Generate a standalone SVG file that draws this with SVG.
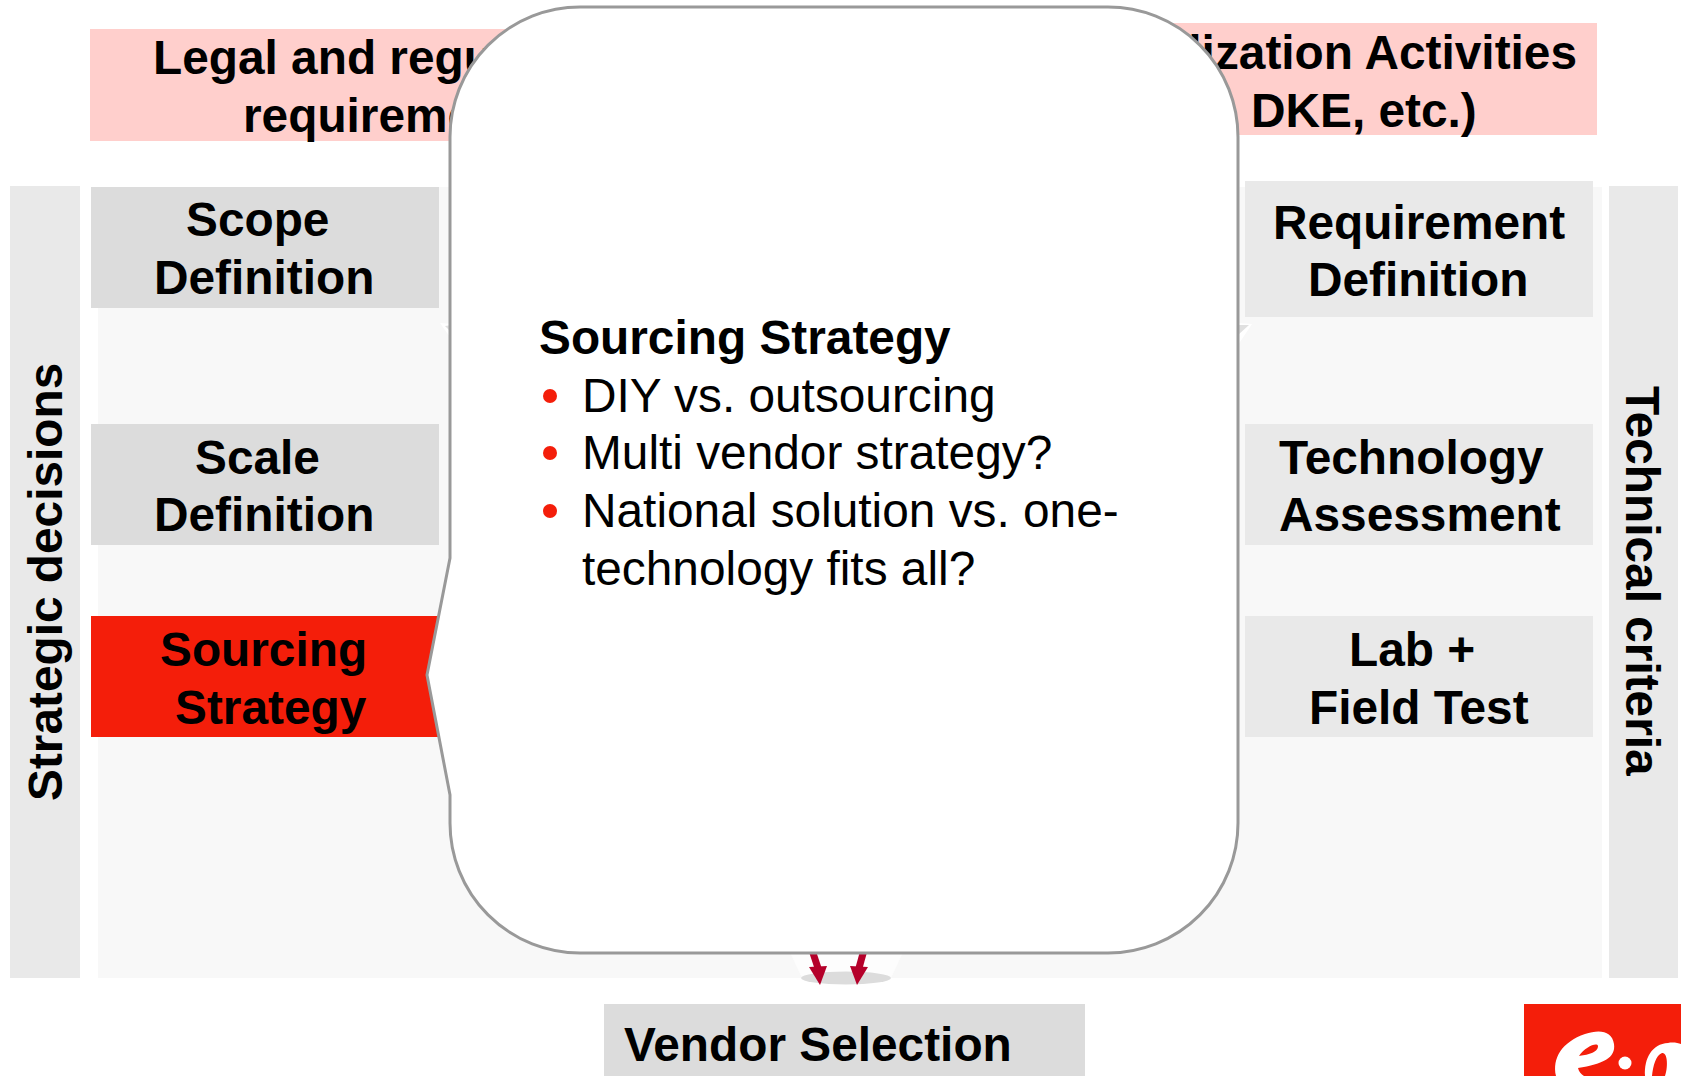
<svg xmlns="http://www.w3.org/2000/svg" width="1681" height="1076" viewBox="0 0 1681 1076">
<style>
text{font-family:"Liberation Sans",Arial,sans-serif;font-size:47.8px;fill:#000}
.b{font-weight:700}
.g1{fill:#dcdcdc}.g2{fill:#e9e9e9}.p{fill:#ffcfcc}.r{fill:#f41e0a}
.bul{fill:#f41e0a}
</style>
<rect width="1681" height="1076" fill="#fff"/>
<rect id="bg" x="98" y="187" width="1504" height="791" fill="#f8f8f8"/>
<g id="legal"><rect class="p" x="90" y="29" width="480" height="112"/><text class="b" x="153" y="74">Legal and regu</text><text class="b" x="243" y="132">requireme</text></g>
<g id="standard"><rect class="p" x="1130" y="23" width="467" height="112"/><text class="b" x="1577" y="69" text-anchor="end">lization Activities</text><text class="b" x="1251" y="127">DKE, etc.)</text></g>
<g id="strategic"><rect class="g2" x="10" y="186" width="70" height="792"/><text class="b" transform="translate(62,801) rotate(-90)">Strategic decisions</text></g>
<g id="technical"><rect class="g2" x="1609" y="186" width="69" height="792"/><text class="b" transform="translate(1626,386) rotate(90)">Technical criteria</text></g>
<g id="scope"><rect class="g1" x="91" y="187" width="348" height="121"/><text class="b" x="186" y="236">Scope</text><text class="b" x="154" y="294">Definition</text></g>
<g id="scale"><rect class="g1" x="91" y="424" width="348" height="121"/><text class="b" x="195" y="474">Scale</text><text class="b" x="154" y="531">Definition</text></g>
<g id="sourcing"><rect class="r" x="91" y="616" width="348" height="121"/><text class="b" x="160" y="666">Sourcing</text><text class="b" x="175" y="724">Strategy</text></g>
<g id="requirement"><rect class="g2" x="1245" y="181" width="348" height="136"/><text class="b" x="1273" y="239">Requirement</text><text class="b" x="1308" y="296">Definition</text></g>
<g id="technology"><rect class="g2" x="1245" y="424" width="348" height="121"/><text class="b" x="1279" y="474">Technology</text><text class="b" x="1279" y="531">Assessment</text></g>
<g id="lab"><rect class="g2" x="1245" y="616" width="348" height="121"/><text class="b" x="1349" y="666">Lab +</text><text class="b" x="1309" y="724">Field Test</text></g>
<g id="vendor"><rect class="g1" x="604" y="1004" width="481" height="72"/><text class="b" x="624" y="1061">Vendor Selection</text></g>
<g id="logo"><rect class="r" x="1524" y="1004" width="157" height="72"/><path fill-rule="evenodd" d="M1556 1076C1552 1058 1562 1042 1585 1034C1600 1029 1612 1031 1614 1044C1616 1058 1603 1064 1578 1068C1579 1072 1581 1074 1584 1076ZM1579 1056C1586 1055 1598 1053 1598 1046C1597 1042 1585 1047 1579 1056Z" fill="#fff"/><circle cx="1625" cy="1063" r="6.500" fill="#fff"/><path fill-rule="evenodd" d="M1645 1076C1644 1058 1652 1044 1668 1043C1673 1042 1678 1043 1681 1044V1076ZM1652 1076H1665C1668 1068 1668 1052 1662 1053C1656 1055 1653 1066 1652 1076Z" fill="#fff"/></g>
<g id="connectors">
<path d="M788 948H905L891 978H802Z" fill="#fdfdfd"/>
<ellipse cx="846" cy="978" rx="45" ry="6.500" fill="#dcdcdc"/>
<path d="M812 950L818 968" stroke="#b5002a" stroke-width="7" fill="none"/><path d="M809 967L827 966L820 985Z" fill="#b5002a"/>
<path d="M864 950L859 968" stroke="#b5002a" stroke-width="7" fill="none"/><path d="M850 966L868 967L857 985Z" fill="#b5002a"/>
<path d="M440 323L452 324V340Z" fill="#fff"/><path d="M445 326L452 325V333Z" fill="#e0e0e0"/><path d="M1238 323L1252 324L1238 345Z" fill="#fff"/><path d="M1238 325L1249 325L1238 335Z" fill="#e0e0e0"/>
</g>
<g id="callout"><path d="M580 7H1108A130 130 0 0 1 1238 137V823A130 130 0 0 1 1108 953H580A130 130 0 0 1 450 823V795L427 675L450 558V137A130 130 0 0 1 580 7Z" fill="#fff" stroke="#999" stroke-width="3"/>
<text class="b" x="539" y="354">Sourcing Strategy</text>
<circle class="bul" cx="550" cy="396" r="7"/><text x="582" y="412">DIY vs. outsourcing</text>
<circle class="bul" cx="550" cy="453" r="7"/><text x="582" y="469">Multi vendor strategy?</text>
<circle class="bul" cx="550" cy="511" r="7"/><text x="582" y="527">National solution vs. one-</text>
<text x="582" y="585">technology fits all?</text></g>
</svg>
